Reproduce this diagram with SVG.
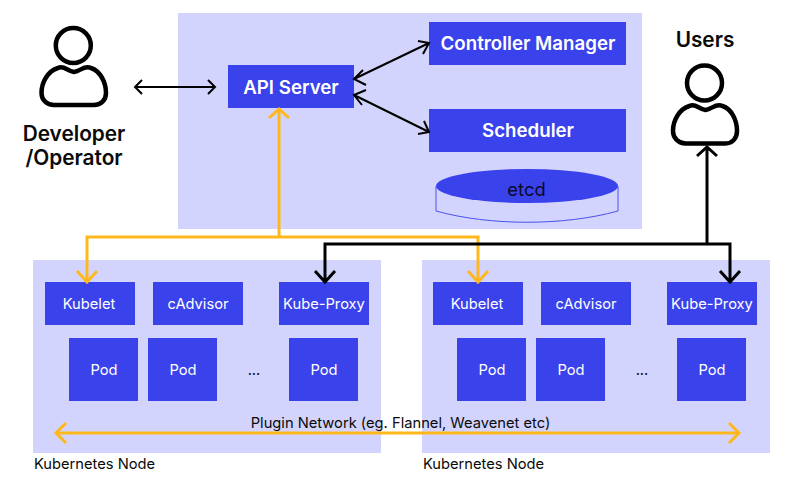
<svg xmlns="http://www.w3.org/2000/svg" width="800" height="480" viewBox="0 0 800 480">
<style>
text{font-family:"Inter","Noto Sans","Liberation Sans",sans-serif;text-anchor:middle}
.panel{fill:#d2d4fd}
.box{fill:#3a42ec}
.big{fill:#fff;font-size:18.7px;font-weight:600}
.small{fill:#fff;font-size:14.7px;font-weight:400}
.label{fill:#0a0a0a;font-size:14.7px;font-weight:400}
.title{fill:#0a0a0a;font-size:20.8px;font-weight:600}
.line{fill:none;stroke-linejoin:miter}
.k2{stroke:#000;stroke-width:2}
.k3{stroke:#000;stroke-width:3}
.y3{stroke:#ffb81c;stroke-width:3}
.person{fill:none;stroke:#000;stroke-width:4.5}
</style>
<g id="control-plane"><rect class="panel" x="178" y="13" width="464" height="216"/></g>
<g id="node-1"><rect class="panel" x="33" y="260" width="348" height="193"/><text class="label" x="34" y="469" style="text-anchor:start">Kubernetes Node</text></g>
<g id="node-2"><rect class="panel" x="422" y="260" width="348" height="193"/><text class="label" x="423" y="469" style="text-anchor:start">Kubernetes Node</text></g>
<g id="developer">
<circle class="person" cx="73.3" cy="45.5" r="17.5"/>
<path class="person" d="M58 68C64 65 67 71 74 72C81 71 84 65 91 68C100 71 106 82 106 93C106 100 101 105 94 105H54C47 105 41.5 100 41.5 93C41.5 82 48 71 58 68Z"/>
<text class="title" x="74" y="141">Developer</text><text class="title" x="74" y="165">/Operator</text>
</g>
<g id="users">
<circle class="person" cx="704.5" cy="83" r="17.5"/>
<path class="person" d="M689.500 106C695.500 103 698.500 109 705.500 110C712.500 109 715.500 103 722.500 106C731.500 109 737 120 737 131C737 138 732.500 143.500 725.500 143.500H685.500C678.500 143.500 673 138 673 131C673 120 679.500 109 689.500 106Z"/>
<text class="title" x="705" y="46.500">Users</text>
</g>
<g id="api-server"><rect class="box" x="228" y="65" width="126" height="43"/><text class="big" x="291" y="94">API Server</text></g>
<g id="controller-manager"><rect class="box" x="429" y="22" width="197" height="43"/><text class="big" x="528" y="50">Controller Manager</text></g>
<g id="scheduler"><rect class="box" x="429" y="109" width="197" height="43"/><text class="big" x="528" y="137">Scheduler</text></g>
<g id="etcd">
<path d="M436 186V211C490 226 564 226 618 211V186" fill="none" stroke="#4a52ee" stroke-width="1"/>
<ellipse class="box" cx="527" cy="186" rx="91" ry="17"/>
<text x="526.500" y="196" font-size="18.400" fill="#0a0a2a">etcd</text>
</g>
<g id="kubelet-1"><rect class="box" x="45" y="282" width="90" height="43"/><text class="small" x="89" y="309">Kubelet</text></g>
<g id="cadvisor-1"><rect class="box" x="153" y="282" width="90" height="43"/><text class="small" x="198" y="309">cAdvisor</text></g>
<g id="kube-proxy-1"><rect class="box" x="279" y="282" width="90" height="43"/><text class="small" x="324" y="309">Kube-Proxy</text></g>
<g id="pod-1a"><rect class="box" x="69" y="338" width="69" height="63"/><text class="small" x="104" y="375">Pod</text></g>
<g id="pod-1b"><rect class="box" x="148" y="338" width="69" height="63"/><text class="small" x="183" y="375">Pod</text></g>
<g id="pod-1c"><rect class="box" x="289" y="338" width="69" height="63"/><text class="small" x="324" y="375">Pod</text></g>
<text class="label" x="254" y="375">...</text>
<g id="kubelet-2"><rect class="box" x="433" y="282" width="90" height="43"/><text class="small" x="477" y="309">Kubelet</text></g>
<g id="cadvisor-2"><rect class="box" x="541" y="282" width="90" height="43"/><text class="small" x="586" y="309">cAdvisor</text></g>
<g id="kube-proxy-2"><rect class="box" x="667" y="282" width="90" height="43"/><text class="small" x="712" y="309">Kube-Proxy</text></g>
<g id="pod-2a"><rect class="box" x="457" y="338" width="69" height="63"/><text class="small" x="492" y="375">Pod</text></g>
<g id="pod-2b"><rect class="box" x="536" y="338" width="69" height="63"/><text class="small" x="571" y="375">Pod</text></g>
<g id="pod-2c"><rect class="box" x="677" y="338" width="69" height="63"/><text class="small" x="712" y="375">Pod</text></g>
<text class="label" x="642" y="375">...</text>
<g id="connectors">
<path class="line k2" d="M135 87H215M142 80L135 87L142 94M208 80L215 87L208 94"/>
<path class="line k2" d="M354 79L429 43M363 70L354 79L366 85M418 41L429 43L423 54"/>
<path class="line k2" d="M354 95L429 132M366 90L354 95L362 105M424 121L429 132L418 134"/>
<path class="line y3" d="M279 237V109M269 118L279 109L289 118M87 282V237H478V282M77 271L87 282L97 271M468 271L478 282L488 271"/>
<path class="line k3" d="M707 244V147M697 156L707 147L717 156M325 282V244H730V282M315 271L325 282L335 271M720 271L730 282L740 271"/>
<path class="line y3" d="M56 433H739M66 423L56 433L66 443M729 423L739 433L729 443"/>
</g>
<text class="label" x="400.500" y="428">Plugin Network (eg. Flannel, Weavenet etc)</text>
</svg>
